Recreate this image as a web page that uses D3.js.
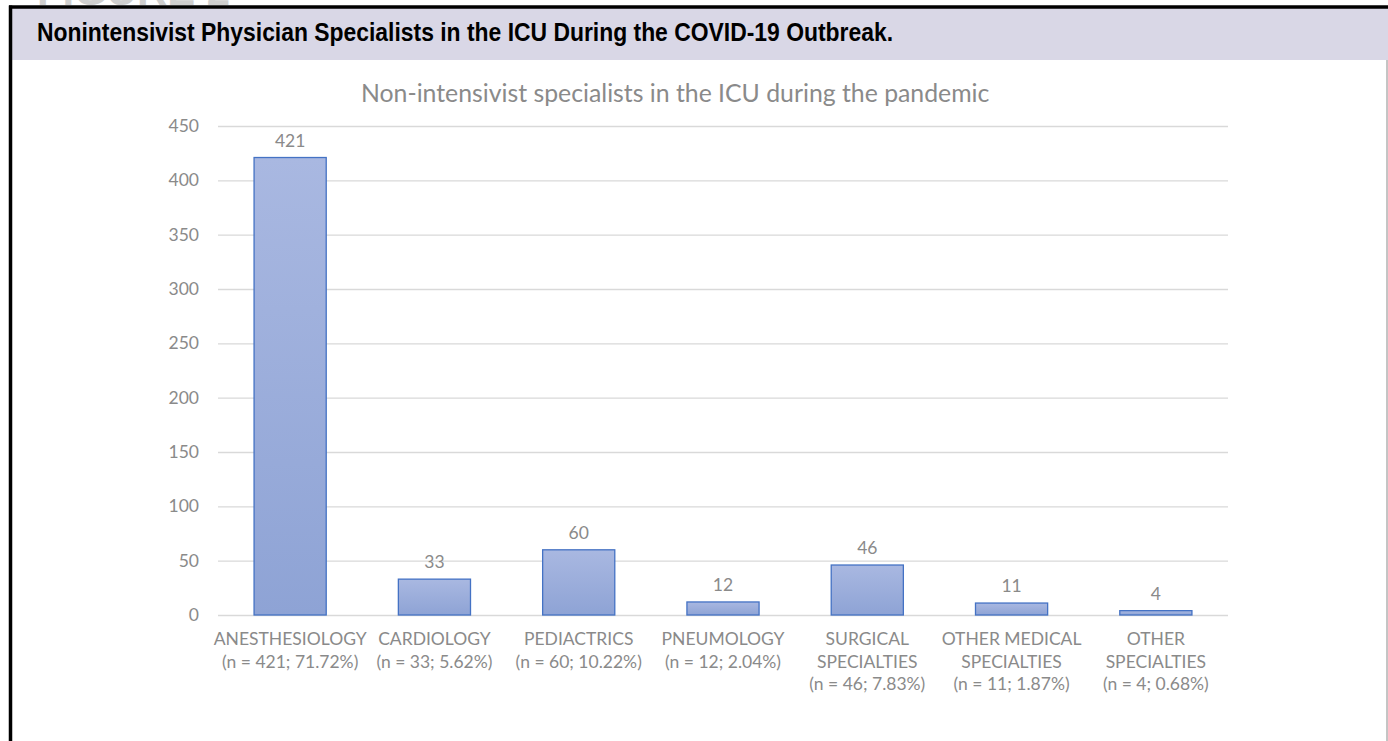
<!DOCTYPE html>
<html>
<head>
<meta charset="utf-8">
<script src="https://cdn.jsdelivr.net/npm/d3@7"></script>
<style>
  body { margin: 0; background: #fff; }
  svg { display: block; }
</style>
</head>
<body>
<svg id="chart"></svg>
<script>
// chart data
var categories = [
	["ANESTHESIOLOGY", "(n = 421; 71.72%)"],
	["CARDIOLOGY", "(n = 33; 5.62%)"],
	["PEDIACTRICS", "(n = 60; 10.22%)"],
	["PNEUMOLOGY", "(n = 12; 2.04%)"],
	["SURGICAL", "SPECIALTIES", "(n = 46; 7.83%)"],
	["OTHER MEDICAL", "SPECIALTIES", "(n = 11; 1.87%)"],
	["OTHER", "SPECIALTIES", "(n = 4; 0.68%)"]
];
var values = [421, 33, 60, 12, 46, 11, 4];
var yTicks = [0, 50, 100, 150, 200, 250, 300, 350, 400, 450];

var figureLabel = "FIGURE 2";
var figureTitle = "Nonintensivist Physician Specialists in the ICU During the COVID-19 Outbreak.";
var chartTitle = "Non-intensivist specialists in the ICU during the pandemic";

var W = 1388, H = 741;
var cfg = { left: 218, right: 1228, top: 126, bottom: 615 };
var textColor = "#8a8a8a";
var font = "Lato, 'Open Sans', sans-serif";
var headFont = "'Liberation Sans', Arial, sans-serif";

var svg = d3.select("#chart").attr("width", W).attr("height", H);

var defs = svg.append("defs");
var grad = defs.append("linearGradient")
	.attr("id", "barFill")
	.attr("x1", 0).attr("y1", 0).attr("x2", 0).attr("y2", 1);
grad.append("stop").attr("offset", "0%").attr("stop-color", "#a9b8e1");
grad.append("stop").attr("offset", "100%").attr("stop-color", "#8ea3d5");

// figure frame (label at the top is cut by the page edge, as in the source)
svg.append("text")
	.attr("x", 37).attr("y", 5)
	.attr("font-family", headFont)
	.attr("font-weight", "bold")
	.attr("font-size", 42)
	.attr("textLength", 193)
	.attr("lengthAdjust", "spacingAndGlyphs")
	.attr("fill", "#cfcfcf")
	.text(figureLabel);

svg.append("rect")
	.attr("x", 10).attr("y", 8).attr("width", W - 10).attr("height", 52)
	.attr("fill", "#d9d7e6");
svg.append("line")
	.attr("x1", 9).attr("x2", W).attr("y1", 7).attr("y2", 7)
	.attr("stroke", "#000").attr("stroke-width", 3.5);
svg.append("line")
	.attr("x1", 10.5).attr("x2", 10.5).attr("y1", 5.5).attr("y2", H)
	.attr("stroke", "#000").attr("stroke-width", 3.5);
svg.append("line")
	.attr("x1", 1387).attr("x2", 1387).attr("y1", 60).attr("y2", H)
	.attr("stroke", "#8a8a8a").attr("stroke-width", 1);

svg.append("text")
	.attr("x", 37).attr("y", 41)
	.attr("font-family", headFont)
	.attr("font-weight", "bold")
	.attr("font-size", 25)
	.attr("textLength", 856)
	.attr("lengthAdjust", "spacingAndGlyphs")
	.attr("fill", "#000")
	.text(figureTitle);

// chart title
svg.append("text")
	.attr("x", 361).attr("y", 102)
	.attr("font-family", font)
	.attr("font-size", 24.8)
	.attr("fill", textColor)
	.text(chartTitle);

var x = d3.scaleBand()
	.domain(d3.range(categories.length))
	.range([cfg.left, cfg.right])
	.paddingInner(0.5)
	.paddingOuter(0.25);

var y = d3.scaleLinear()
	.domain([0, 450])
	.range([cfg.bottom, cfg.top]);

// gridlines and y axis
var yAxis = d3.axisLeft(y)
	.tickValues(yTicks)
	.tickSize(-(cfg.right - cfg.left))
	.tickPadding(19);

var gy = svg.append("g")
	.attr("transform", "translate(" + cfg.left + ",0)")
	.call(yAxis);
gy.select(".domain").remove();
gy.selectAll(".tick line").attr("stroke", "#d9d9d9").attr("stroke-width", 1.3);
gy.selectAll(".tick text")
	.attr("font-family", font)
	.attr("font-size", 17.5)
	.attr("fill", textColor);

// bars
var bar = svg.selectAll("g.bar")
	.data(values)
	.enter().append("g")
	.attr("class", "bar");

bar.append("rect")
	.attr("x", function(d, i) { return x(i); })
	.attr("y", function(d) { return y(d); })
	.attr("width", x.bandwidth())
	.attr("height", function(d) { return y(0) - y(d); })
	.attr("fill", "url(#barFill)")
	.attr("stroke", "#4472c4")
	.attr("stroke-width", 1.3);

bar.append("text")
	.attr("x", function(d, i) { return x(i) + x.bandwidth() / 2; })
	.attr("y", function(d) { return y(d) - 11; })
	.attr("text-anchor", "middle")
	.attr("font-family", font)
	.attr("font-size", 17.5)
	.attr("fill", textColor)
	.text(function(d) { return d; });

// category labels
var cat = svg.selectAll("text.cat")
	.data(categories)
	.enter().append("text")
	.attr("class", "cat")
	.attr("text-anchor", "middle")
	.attr("font-family", font)
	.attr("font-size", 17.5)
	.attr("fill", textColor);

cat.selectAll("tspan")
	.data(function(d, i) { return d.map(function(s) { return { s: s, i: i }; }); })
	.enter().append("tspan")
	.attr("x", function(d) { return x(d.i) + x.bandwidth() / 2; })
	.attr("y", function(d, j) { return cfg.bottom + 30 + j * 22.5; })
	.text(function(d) { return d.s; });
</script>
</body>
</html>
